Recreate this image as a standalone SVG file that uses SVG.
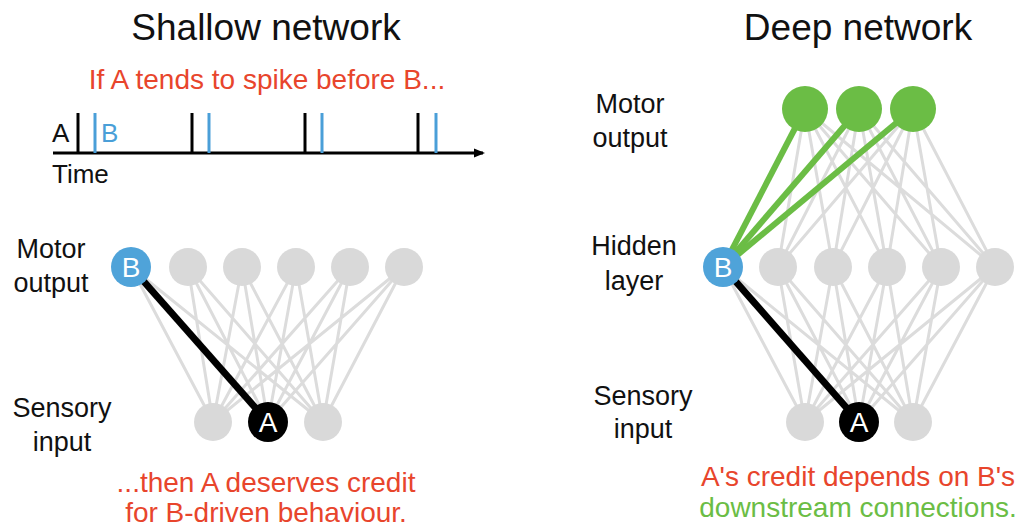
<svg xmlns="http://www.w3.org/2000/svg" width="1024" height="530" viewBox="0 0 1024 530">
<defs>
<style>
text{font-family:"Liberation Sans",Arial,sans-serif;}
.title{font-size:37px;fill:#111;text-anchor:middle;}
.lab{font-size:27px;fill:#111;text-anchor:middle;}
.red{font-size:28px;fill:#e8452c;text-anchor:middle;}
.grn{font-size:28px;fill:#6bbd45;text-anchor:middle;}
.gl{stroke:#dcdcdc;stroke-width:3;fill:none;}
.gn{fill:#d9d9d9;}
.nl{font-size:28px;fill:#fff;text-anchor:middle;}
.spk{stroke:#000;stroke-width:3;}
.spb{stroke:#4a9fd8;stroke-width:3;}
</style>
<marker id="arr" markerWidth="12" markerHeight="12" refX="9" refY="6" orient="auto" markerUnits="userSpaceOnUse">
<path d="M0,1.5 L11,6 L0,10.5 Z" fill="#000"/>
</marker>
</defs>
<rect width="1024" height="530" fill="#fff"/>

<text class="title" x="266" y="40">Shallow network</text>
<text class="title" x="858" y="40">Deep network</text>

<g id="spike-train">
<text class="red" x="267" y="89" font-size="29">If A tends to spike before B...</text>
<line x1="53" y1="153" x2="483" y2="153" stroke="#000" stroke-width="3" marker-end="url(#arr)"/>
<line class="spk" x1="78" y1="113" x2="78" y2="153"/>
<line class="spk" x1="192" y1="113" x2="192" y2="153"/>
<line class="spk" x1="305" y1="113" x2="305" y2="153"/>
<line class="spk" x1="418" y1="113" x2="418" y2="153"/>
<line class="spb" x1="95" y1="113" x2="95" y2="153"/>
<line class="spb" x1="209" y1="113" x2="209" y2="153"/>
<line class="spb" x1="322" y1="113" x2="322" y2="153"/>
<line class="spb" x1="436" y1="113" x2="436" y2="153"/>
<text x="52" y="142" font-size="26" fill="#111">A</text>
<text x="101" y="142" font-size="26" fill="#4a9fd8">B</text>
<text x="52" y="183" font-size="26" fill="#111">Time</text>
</g>

<g id="labels">
<text class="lab" x="51" y="258">Motor</text>
<text class="lab" x="51" y="292">output</text>
<text class="lab" x="62" y="417">Sensory</text>
<text class="lab" x="62" y="451">input</text>
<text class="lab" x="630" y="113">Motor</text>
<text class="lab" x="630" y="147">output</text>
<text class="lab" x="634" y="255">Hidden</text>
<text class="lab" x="634" y="290">layer</text>
<text class="lab" x="643" y="405">Sensory</text>
<text class="lab" x="643" y="438">input</text>
</g>

<g id="connectors">
<g class="gl">
<path d="M131,267L213,422M131,267L268,422M131,267L323,422
M188,267L213,422M188,267L268,422M188,267L323,422
M242,267L213,422M242,267L268,422M242,267L323,422
M296,267L213,422M296,267L268,422M296,267L323,422
M350,267L213,422M350,267L268,422M350,267L323,422
M404,267L213,422M404,267L268,422M404,267L323,422"/>
<path d="M805,109L723,267M805,109L778,267M805,109L833,267M805,109L887,267M805,109L941,267M805,109L995,267
M859,109L723,267M859,109L778,267M859,109L833,267M859,109L887,267M859,109L941,267M859,109L995,267
M913,109L723,267M913,109L778,267M913,109L833,267M913,109L887,267M913,109L941,267M913,109L995,267"/>
<path d="M723,267L805,422M723,267L859,422M723,267L913,422
M778,267L805,422M778,267L859,422M778,267L913,422
M833,267L805,422M833,267L859,422M833,267L913,422
M887,267L805,422M887,267L859,422M887,267L913,422
M941,267L805,422M941,267L859,422M941,267L913,422
M995,267L805,422M995,267L859,422M995,267L913,422"/>
</g>
<line x1="131" y1="267" x2="268" y2="422" stroke="#000" stroke-width="7"/>
<line x1="723" y1="267" x2="859" y2="422" stroke="#000" stroke-width="7"/>
<g stroke="#6bbd45" stroke-width="6">
<line x1="723" y1="267" x2="805" y2="109"/>
<line x1="723" y1="267" x2="859" y2="109"/>
<line x1="723" y1="267" x2="913" y2="109"/>
</g>
</g>

<g id="shallow-top">
<circle class="gn" cx="188" cy="267" r="19"/>
<circle class="gn" cx="242" cy="267" r="19"/>
<circle class="gn" cx="296" cy="267" r="19"/>
<circle class="gn" cx="350" cy="267" r="19"/>
<circle class="gn" cx="404" cy="267" r="19"/>
</g>
<g id="shallow-B">
<circle cx="131" cy="267" r="20" fill="#4fa3d9"/>
<text class="nl" x="131" y="277">B</text>
</g>
<g id="shallow-input">
<circle class="gn" cx="213" cy="422" r="19"/>
<circle class="gn" cx="323" cy="422" r="19"/>
</g>
<g id="shallow-A">
<circle cx="268" cy="422" r="20" fill="#000"/>
<text class="nl" x="268" y="432">A</text>
</g>

<g id="deep-output">
<circle cx="805" cy="109" r="23" fill="#6bbd45"/>
<circle cx="859" cy="109" r="23" fill="#6bbd45"/>
<circle cx="913" cy="109" r="23" fill="#6bbd45"/>
</g>
<g id="deep-hidden">
<circle class="gn" cx="778" cy="267" r="19"/>
<circle class="gn" cx="833" cy="267" r="19"/>
<circle class="gn" cx="887" cy="267" r="19"/>
<circle class="gn" cx="941" cy="267" r="19"/>
<circle class="gn" cx="995" cy="267" r="19"/>
</g>
<g id="deep-B">
<circle cx="723" cy="267" r="20" fill="#4fa3d9"/>
<text class="nl" x="723" y="277">B</text>
</g>
<g id="deep-input">
<circle class="gn" cx="805" cy="422" r="19"/>
<circle class="gn" cx="913" cy="422" r="19"/>
</g>
<g id="deep-A">
<circle cx="859" cy="422" r="20" fill="#000"/>
<text class="nl" x="859" y="432">A</text>
</g>

<g id="captions">
<text class="red" x="266" y="492">...then A deserves credit</text>
<text class="red" x="266" y="522">for B-driven behaviour.</text>
<text class="red" x="858" y="486">A's credit depends on B's</text>
<text class="grn" x="858" y="517">downstream connections.</text>
</g>
</svg>
